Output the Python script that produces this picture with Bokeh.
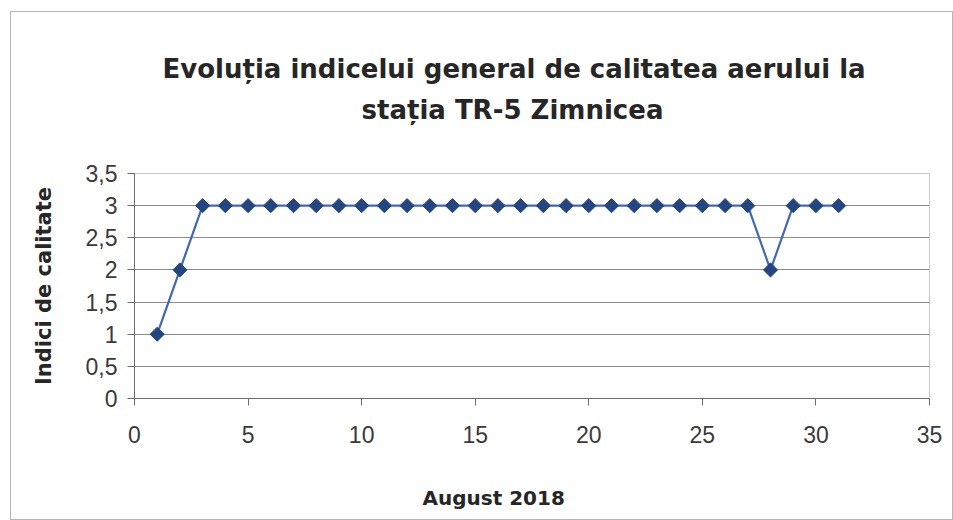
from bokeh.plotting import figure
from bokeh.models import FixedTicker, Range1d, Title
from bokeh.embed import file_html
from bokeh.resources import INLINE
import math

# data
days = list(range(1, 32))
indici = [1, 2, 3, 3, 3, 3, 3, 3, 3, 3,
          3, 3, 3, 3, 3, 3, 3, 3, 3, 3,
          3, 3, 3, 3, 3, 3, 3, 2, 3, 3, 3]
x_ticks = [0, 5, 10, 15, 20, 25, 30, 35]
y_ticks = [0, 0.5, 1, 1.5, 2, 2.5, 3, 3.5]
y_tick_labels = ["0", "0,5", "1", "1,5", "2", "2,5", "3", "3,5"]
title_lines = ["Evoluția indicelui general de calitatea aerului la", "stația TR-5 Zimnicea"]
x_label = "August 2018"
y_label = "Indici de calitate"

p = figure(width=943, height=509, output_backend="svg", toolbar_location=None,
           x_range=Range1d(0, 35), y_range=Range1d(0, 3.5),
           min_border_left=123, min_border_right=25, min_border_top=161, min_border_bottom=123)
p.styles = {"border": "1px solid #b5b5b5", "margin-left": "10px", "margin-top": "11px"}
p.background_fill_color = "white"
p.border_fill_color = "white"
p.outline_line_color = "#c8c8c8"

p.xgrid.grid_line_color = None
p.ygrid.grid_line_color = "#8c8c8c"
p.ygrid.grid_line_width = 1
p.ygrid.ticker = FixedTicker(ticks=y_ticks)

p.xaxis.ticker = FixedTicker(ticks=x_ticks)
p.yaxis.ticker = FixedTicker(ticks=y_ticks)
p.yaxis.major_label_overrides = {t: l for t, l in zip(y_ticks, y_tick_labels)}
for ax in (p.xaxis, p.yaxis):
    ax.axis_line_color = "#6e6e6e"
    ax.major_tick_line_color = "#6e6e6e"
    ax.major_tick_in = 0
    ax.major_tick_out = 7
    ax.minor_tick_line_color = None
    ax.major_label_text_font = "Liberation Sans"
    ax.major_label_text_font_size = "23px"
    ax.major_label_text_color = "#3a3a3a"
p.xaxis.major_label_standoff = 20
p.yaxis.major_label_standoff = 10

p.yaxis.axis_label = y_label
p.yaxis.axis_label_text_font = "DejaVu Sans"
p.yaxis.axis_label_text_font_style = "bold"
p.yaxis.axis_label_text_font_size = "21px"
p.yaxis.axis_label_text_color = "#262626"
p.yaxis.axis_label_standoff = 27

p.line(days, indici, line_color="#4068b8", line_width=2.2)
p.scatter(days, indici, marker="square", size=10, angle=math.pi / 4,
          fill_color="#24457f", line_color="#24457f")

font = "DejaVu Sans"
# spacer between the plot frame and the title
p.add_layout(Title(text=" ", standoff=31, text_font_size="10px"), "above")
p.add_layout(Title(text=title_lines[1], align="left", offset=227, standoff=10,
                   text_font=font, text_font_style="bold", text_font_size="26px",
                   text_color="#262626"), "above")
p.add_layout(Title(text=title_lines[0], align="left", offset=28, standoff=8,
                   text_font=font, text_font_style="bold", text_font_size="26px",
                   text_color="#262626"), "above")
# spacer between the x axis and its label
p.add_layout(Title(text=" ", standoff=25, text_font_size="10px"), "below")
p.add_layout(Title(text=x_label, align="left", offset=288, standoff=0,
                   text_font=font, text_font_style="bold", text_font_size="20px",
                   text_color="#262626"), "below")

open("out.html", "w").write(file_html(p, INLINE))
